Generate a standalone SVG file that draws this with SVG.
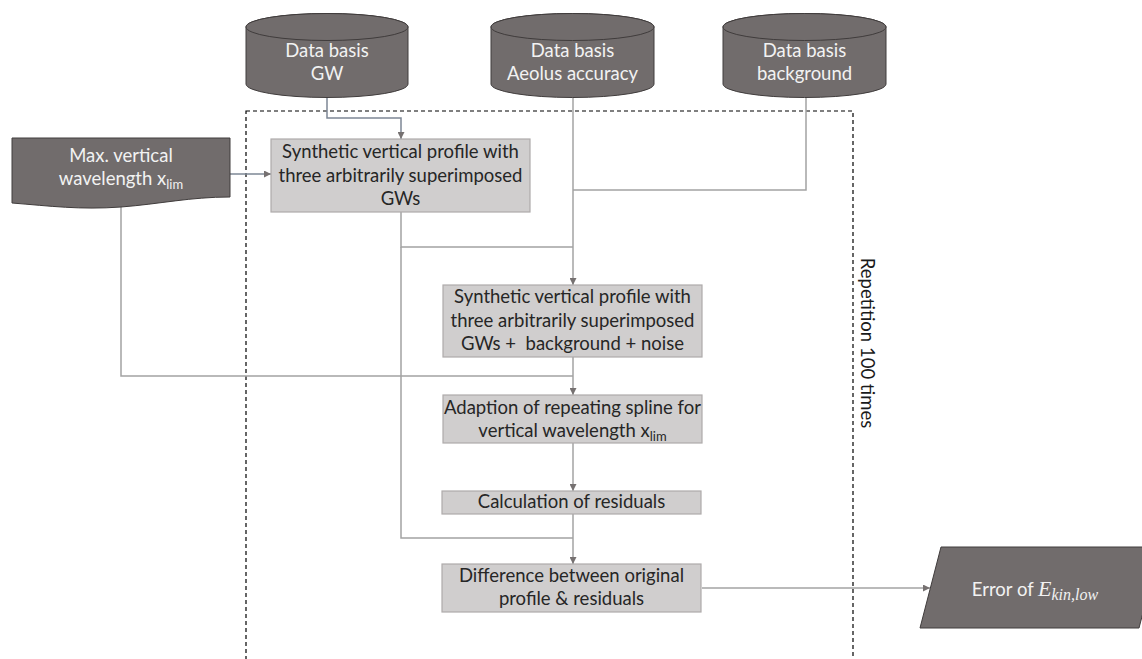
<svg xmlns="http://www.w3.org/2000/svg" width="1142" height="659" viewBox="0 0 1142 659">
<defs>
<style>
.dark{fill:#716c6c;stroke:#403c3c;stroke-width:1}
.light{fill:#d0cece;stroke:#aeabab;stroke-width:1.2}
.tw{font-family:Lato,"Open Sans",sans-serif;font-size:18.5px;fill:#f2f2f2;text-anchor:middle}
.tb{font-family:Lato,"Open Sans",sans-serif;font-size:18.5px;fill:#262626;text-anchor:middle}
.ln{fill:none;stroke:#a3a3a3;stroke-width:1.5}
.la{fill:none;stroke:#a3a3a3;stroke-width:1.5;marker-end:url(#ah)}
.lb{fill:none;stroke:#7d8795;stroke-width:1.5;marker-end:url(#ah)}
</style>
<marker id="ah" viewBox="0 0 10 10" refX="10" refY="5" markerWidth="7" markerHeight="7" markerUnits="userSpaceOnUse" orient="auto">
<path d="M0,0 L10,5 L0,10 z" fill="#767171"/>
</marker>
</defs>
<rect width="1142" height="659" fill="#ffffff"/>

<rect x="246" y="111" width="607" height="560" fill="none" stroke="#000" stroke-width="1.2" stroke-dasharray="4,3"/>

<g id="connectors">
<path class="lb" d="M327 97 V118 H401 V139"/>
<path class="lb" d="M230 174 H271"/>
<path class="la" d="M573 97 V285"/>
<path class="ln" d="M806 97 V190 H573"/>
<path class="ln" d="M401 212 V247 H573"/>
<path class="ln" d="M401 247 V538 H573"/>
<path class="la" d="M573 357 V395"/>
<path class="ln" d="M121 205 V376 H573"/>
<path class="la" d="M573 443 V491"/>
<path class="la" d="M573 514 V564"/>
<path class="la" d="M702 588 H930"/>
</g>

<g id="db-gw">
<path class="dark" d="M246 27 A81 13.5 0 0 1 408 27 V84 A81 13.5 0 0 1 246 84 Z"/>
<ellipse class="dark" cx="327" cy="27" rx="81" ry="13.5"/>
<text class="tw" x="327" y="57">Data basis</text>
<text class="tw" x="327" y="80">GW</text>
</g>

<g id="db-aeolus">
<path class="dark" d="M491 27 A81.5 13.5 0 0 1 654 27 V84 A81.5 13.5 0 0 1 491 84 Z"/>
<ellipse class="dark" cx="572.5" cy="27" rx="81.5" ry="13.5"/>
<text class="tw" x="572.5" y="57">Data basis</text>
<text class="tw" x="572.5" y="80">Aeolus accuracy</text>
</g>

<g id="db-background">
<path class="dark" d="M723 27 A81.5 13.5 0 0 1 886 27 V84 A81.5 13.5 0 0 1 723 84 Z"/>
<ellipse class="dark" cx="804.5" cy="27" rx="81.5" ry="13.5"/>
<text class="tw" x="804.5" y="57">Data basis</text>
<text class="tw" x="804.5" y="80">background</text>
</g>

<g id="max-wavelength">
<path class="dark" d="M12 138 H230 V197 C190 197 160 204 121 207 C80 210 50 206 12 203 Z"/>
<text class="tw" x="121" y="162">Max. vertical</text>
<text class="tw" x="121" y="185">wavelength x<tspan font-size="13" dy="4">lim</tspan></text>
</g>

<g id="synthetic-gws">
<rect class="light" x="271" y="139" width="259" height="73"/>
<text class="tb" x="400.5" y="158">Synthetic vertical profile with</text>
<text class="tb" x="400.5" y="182">three arbitrarily superimposed</text>
<text class="tb" x="400.5" y="205">GWs</text>
</g>

<g id="synthetic-noise">
<rect class="light" x="443" y="285" width="259" height="72"/>
<text class="tb" x="572.5" y="303">Synthetic vertical profile with</text>
<text class="tb" x="572.5" y="327">three arbitrarily superimposed</text>
<text class="tb" x="572.5" y="350">GWs +&#160; background + noise</text>
</g>

<g id="spline">
<rect class="light" x="443" y="395" width="259" height="48"/>
<text class="tb" x="572.5" y="414">Adaption of repeating spline for</text>
<text class="tb" x="572.5" y="437">vertical wavelength x<tspan font-size="13" dy="4">lim</tspan></text>
</g>

<g id="residuals">
<rect class="light" x="442" y="491" width="259" height="23"/>
<text class="tb" x="571.5" y="508">Calculation of residuals</text>
</g>

<g id="difference">
<rect class="light" x="442" y="564" width="259" height="48"/>
<text class="tb" x="571.5" y="582">Difference between original</text>
<text class="tb" x="571.5" y="605">profile &amp; residuals</text>
</g>

<g id="error-output">
<path class="dark" d="M941 547 H1160 L1139 628 H920 Z"/>
<text class="tw" x="1035" y="596">Error of <tspan font-family="'Liberation Serif',serif" font-style="italic" font-size="22">E</tspan><tspan font-family="'Liberation Serif',serif" font-style="italic" font-size="16" dy="4">kin,low</tspan></text>
</g>

<g id="repetition-label">
<text transform="translate(861,343) rotate(90)" font-family="Lato,'Open Sans',sans-serif" font-size="18.5" fill="#1a1a1a" text-anchor="middle">Repetition 100 times</text>
</g>
</svg>
